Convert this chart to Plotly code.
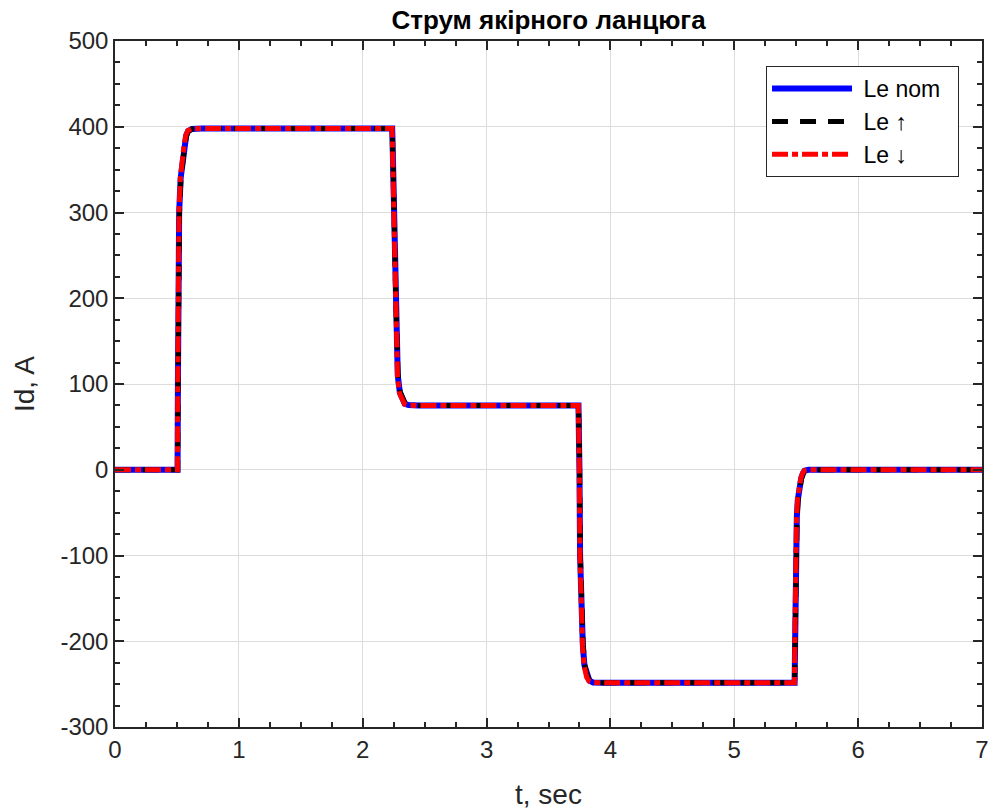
import plotly.graph_objects as go

# Armature current transients for three armature inductance cases
t_nom = [0.0, 0.49, 0.505, 0.508, 0.512, 0.518, 0.53, 0.545, 0.56, 0.575, 0.59, 0.62, 0.7,
         2.238, 2.243, 2.251, 2.264, 2.283, 2.30, 2.32, 2.34, 2.37, 2.45,
         3.742, 3.746, 3.750, 3.755, 3.765, 3.777, 3.79, 3.81, 3.83, 3.86, 3.95,
         5.487, 5.490, 5.496, 5.505, 5.513, 5.523, 5.54, 5.555, 5.568, 5.60, 7.0]
i_nom = [0.0, 0.0, 0.0, 100.0, 200.0, 300.0, 340.0, 362.0, 378.0, 390.0, 395.0, 397.5, 398.0,
         398.0, 370.0, 300.0, 200.0, 110.0, 90.0, 81.0, 77.0, 75.5, 75.0,
         75.0, 50.0, 0.0, -100.0, -160.0, -204.0, -228.0, -241.0, -246.0, -248.0, -248.5,
         -248.5, -200.0, -100.0, -55.0, -35.0, -24.0, -10.0, -4.0, -1.0, 0.0, 0.0]

t_up = [0.0, 0.49, 0.506, 0.509, 0.513, 0.520, 0.532, 0.547, 0.562, 0.577, 0.592, 0.622, 0.7,
        2.239, 2.244, 2.253, 2.266, 2.285, 2.302, 2.322, 2.342, 2.372, 2.45,
        3.743, 3.747, 3.751, 3.757, 3.767, 3.779, 3.792, 3.812, 3.832, 3.862, 3.95,
        5.488, 5.491, 5.498, 5.507, 5.515, 5.525, 5.542, 5.557, 5.570, 5.60, 7.0]
i_up = [0.0, 0.0, 0.0, 95.0, 195.0, 298.0, 338.0, 361.0, 377.0, 389.0, 394.5, 397.5, 398.0,
        398.0, 372.0, 302.0, 203.0, 112.0, 91.0, 82.0, 77.5, 75.5, 75.0,
        75.0, 52.0, 2.0, -98.0, -158.0, -202.0, -227.0, -240.0, -245.5, -248.0, -248.5,
        -248.5, -202.0, -102.0, -56.0, -36.0, -25.0, -11.0, -4.5, -1.2, 0.0, 0.0]

t_dn = [0.0, 0.49, 0.504, 0.507, 0.511, 0.517, 0.528, 0.543, 0.558, 0.573, 0.588, 0.618, 0.7,
        2.237, 2.242, 2.250, 2.262, 2.281, 2.298, 2.318, 2.338, 2.368, 2.45,
        3.741, 3.745, 3.749, 3.754, 3.763, 3.775, 3.788, 3.808, 3.828, 3.858, 3.95,
        5.486, 5.489, 5.495, 5.503, 5.511, 5.521, 5.538, 5.553, 5.566, 5.60, 7.0]
i_dn = [0.0, 0.0, 0.0, 105.0, 205.0, 302.0, 341.0, 363.0, 379.0, 390.5, 395.5, 397.5, 398.0,
        398.0, 368.0, 298.0, 198.0, 108.0, 89.0, 80.5, 76.5, 75.3, 75.0,
        75.0, 48.0, -2.0, -102.0, -162.0, -206.0, -229.0, -242.0, -246.5, -248.0, -248.5,
        -248.5, -198.0, -98.0, -54.0, -34.0, -23.0, -9.5, -3.5, -0.8, 0.0, 0.0]

x_ticks = [0, 1, 2, 3, 4, 5, 6, 7]
y_ticks = [-300, -200, -100, 0, 100, 200, 300, 400, 500]

FONT = "Liberation Sans, Arial, sans-serif"
LPAD = "&nbsp;"
RPAD = "&nbsp;&nbsp;"

fig = go.Figure()
fig.add_trace(go.Scatter(x=t_nom, y=i_nom, mode="lines", name=LPAD + "Le nom" + RPAD,
                         line=dict(color="#0000ff", width=6)))
fig.add_trace(go.Scatter(x=t_up, y=i_up, mode="lines", name=LPAD + "Le ↑" + RPAD,
                         line=dict(color="#000000", width=5, dash="16px,12px")))
fig.add_trace(go.Scatter(x=t_dn, y=i_dn, mode="lines", name=LPAD + "Le ↓" + RPAD,
                         line=dict(color="#ff0000", width=5, dash="16px,4px,6px,4px")))

axis_common = dict(
    showline=True, linecolor="#262626", linewidth=1.5, mirror="ticks",
    ticks="inside", ticklen=9, tickwidth=1.5, tickcolor="#262626",
    showgrid=True, gridcolor="#dcdcdc", gridwidth=1,
    zeroline=False,
    tickfont=dict(family=FONT, size=24, color="#262626"),
)

fig.update_xaxes(
    range=[0, 7], tickvals=x_ticks, ticktext=[str(v) for v in x_ticks],
    title=dict(text="t, sec", font=dict(family=FONT, size=28, color="#262626"), standoff=23),
    minor=dict(dtick=0.25, ticks="inside", ticklen=5, tickwidth=1.5,
               tickcolor="#262626", showgrid=False),
    **axis_common,
)
fig.update_yaxes(
    range=[-300, 500], tickvals=y_ticks, ticktext=[str(v) for v in y_ticks],
    title=dict(text="Id, A", font=dict(family=FONT, size=28, color="#262626"), standoff=18),
    minor=dict(dtick=25, ticks="inside", ticklen=5, tickwidth=1.5,
               tickcolor="#262626", showgrid=False),
    **axis_common,
)

fig.update_layout(
    width=989, height=812,
    margin=dict(l=115, r=7, t=41, b=85, autoexpand=False),
    paper_bgcolor="white", plot_bgcolor="white",
    title=dict(text="<b>Струм якірного ланцюга</b>", x=0.5, xanchor="center",
               xref="paper", y=0.975, yanchor="middle",
               font=dict(family=FONT, size=26, color="#000000")),
    legend=dict(x=0.9735, y=0.9635, xanchor="right", yanchor="top",
                bgcolor="white", bordercolor="#262626", borderwidth=1,
                itemwidth=80, tracegroupgap=0,
                font=dict(family=FONT, size=23, color="#000000")),
    showlegend=True,
)

fig.write_html("out.html")
